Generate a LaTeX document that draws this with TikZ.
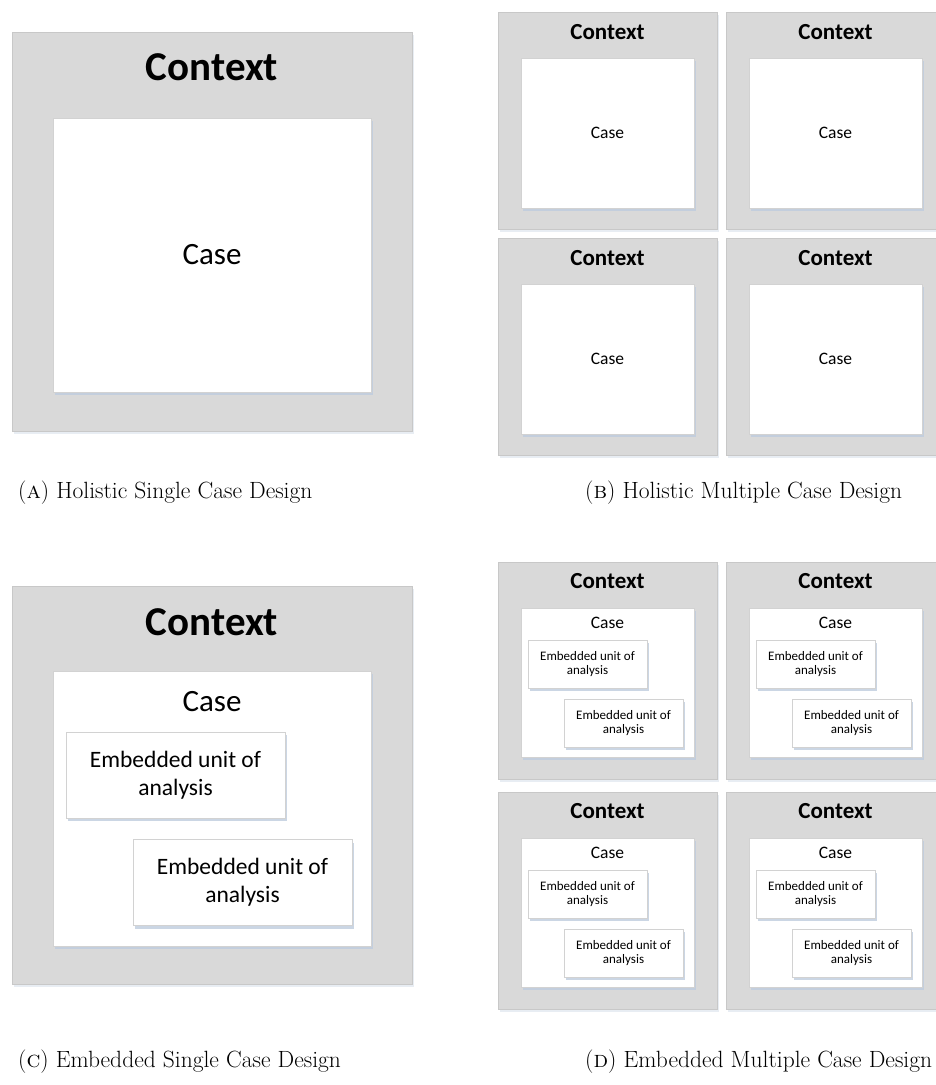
\documentclass[tikz,border=0pt]{standalone}
\usepackage{fontspec}
\newfontfamily\calibri{Carlito}
\newfontfamily\lmcaps[Extension=.otf]{lmromancaps10-regular}
\usepackage{tikz}
\usetikzlibrary{positioning}
\usetikzlibrary{shadows}
\definecolor{ctxgray}{RGB}{217,217,217}
\definecolor{ctxline}{RGB}{200,200,200}
\definecolor{caseline}{RGB}{210,210,210}
\definecolor{shadowblue}{RGB}{190,204,222}
\tikzset{
  ctxbox/.style={draw=ctxline, fill=ctxgray, line width=1pt, inner sep=0pt, outer sep=0pt,
    drop shadow={shadow xshift=1.5pt, shadow yshift=-3pt, fill=shadowblue, opacity=0.35}},
  casebox/.style={draw=caseline, fill=white, line width=1pt, inner sep=0pt, outer sep=0pt,
    drop shadow={shadow xshift=1.5pt, shadow yshift=-3pt, fill=shadowblue, opacity=0.8}},
  bigctx/.style={font=\calibri\bfseries\fontsize{41}{49}\selectfont},
  bigcase/.style={font=\calibri\fontsize{31}{37}\selectfont},
  bigunit/.style={casebox, minimum width=219pt, minimum height=86pt, align=center,
    font=\calibri\fontsize{23.5}{28}\selectfont},
  smctx/.style={font=\calibri\bfseries\fontsize{23}{28}\selectfont},
  smcase/.style={font=\calibri\fontsize{17.5}{21}\selectfont},
  smunit/.style={casebox, minimum width=119pt, minimum height=48pt, align=center,
    font=\calibri\fontsize{13}{14.3}\selectfont},
  capt/.style={anchor=west, inner sep=0pt, font=\fontsize{23.5}{28}\selectfont}
}
\begin{document}
\begin{tikzpicture}[x=1pt,y=-1pt]
\useasboundingbox (0,0) rectangle (936,1085);
% (a) holistic single case
\node[ctxbox, minimum width=400pt, minimum height=399pt] (ctxA) at (212,231.5) {};
\node[bigctx] (ctxAlabel) at ([yshift=-35pt]ctxA.north) {Context};
\node[casebox, minimum width=318pt, minimum height=274pt] (caseA) at (212,255) {};
\node[bigcase] (caseAlabel) at (caseA.center) {Case};
\node[capt] (captA) at (18,493) {({\lmcaps a}) Holistic Single Case Design};
% (b) holistic multiple case
\foreach \cx/\cy/\nm in {498/12/B1, 726/12/B2, 498/238/B3, 726/238/B4}{
  \node[ctxbox, anchor=north west, minimum width=219pt, minimum height=217pt] (ctx\nm) at (\cx,\cy) {};
  \node[smctx] (ctxlabel\nm) at ([yshift=-20pt]ctx\nm.north) {Context};
  \node[casebox, anchor=north west, minimum width=173pt, minimum height=150pt] (case\nm) at ([xshift=23pt,yshift=-46pt]ctx\nm.north west) {};
  \node[smcase] (caselabel\nm) at (case\nm.center) {Case};
}
\node[capt] (captB) at (585,493) {({\lmcaps b}) Holistic Multiple Case Design};
% (c) embedded single case
\node[ctxbox, minimum width=400pt, minimum height=398pt] (ctxC) at (212,785) {};
\node[bigctx] (ctxClabel) at ([yshift=-36pt]ctxC.north) {Context};
\node[casebox, minimum width=318pt, minimum height=275pt] (caseC) at (212,808.5) {};
\node[bigcase] (caseClabel) at ([yshift=-31pt]caseC.north) {Case};
\node[bigunit] (unitC1) at (175.5,775) {Embedded unit of\\analysis};
\node[bigunit] (unitC2) at (242.5,882.5) {Embedded unit of\\analysis};
\node[capt] (captC) at (18,1062) {({\lmcaps c}) Embedded Single Case Design};
% (d) embedded multiple case
\foreach \cx/\cy/\nm in {498/562/D1, 726/562/D2, 498/792/D3, 726/792/D4}{
  \node[ctxbox, anchor=north west, minimum width=219pt, minimum height=217pt] (ctx\nm) at (\cx,\cy) {};
  \node[smctx] (ctxlabel\nm) at ([yshift=-19pt]ctx\nm.north) {Context};
  \node[casebox, anchor=north west, minimum width=173pt, minimum height=149pt] (case\nm) at ([xshift=23pt,yshift=-46pt]ctx\nm.north west) {};
  \node[smcase] (caselabel\nm) at ([yshift=-15pt]case\nm.north) {Case};
  \node[smunit, anchor=north west] (unitA\nm) at ([xshift=30pt,yshift=-78pt]ctx\nm.north west) {Embedded unit of\\analysis};
  \node[smunit, anchor=north west] (unitB\nm) at ([xshift=66pt,yshift=-137pt]ctx\nm.north west) {Embedded unit of\\analysis};
}
\node[capt] (captD) at (585,1062) {({\lmcaps d}) Embedded Multiple Case Design};
\end{tikzpicture}
\end{document}
